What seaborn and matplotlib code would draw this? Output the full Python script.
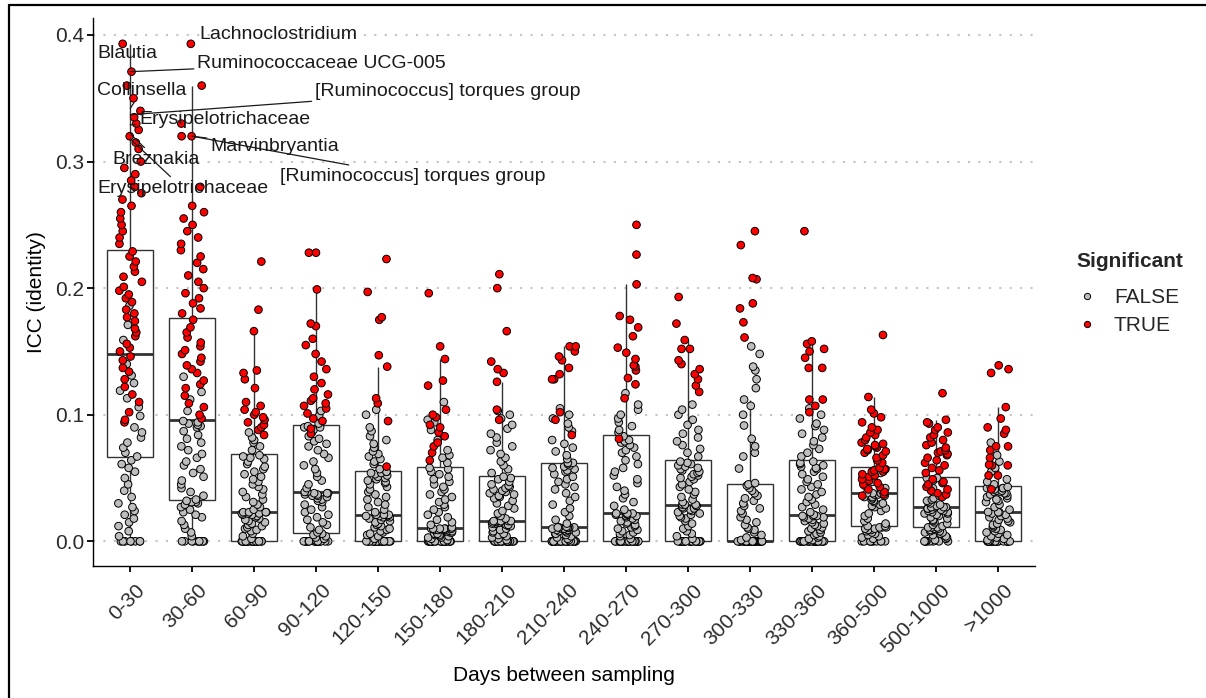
import numpy as np
import pandas as pd
import matplotlib
matplotlib.use("Agg")
import matplotlib.pyplot as plt
import matplotlib.transforms as mtransforms
from matplotlib.lines import Line2D
import seaborn as sns

# ---------------- data (ICC values) ----------------
cats = ["0-30", "30-60", "60-90", "90-120", "120-150", "150-180", "180-210",
        "210-240", "240-270", "270-300", "300-330", "330-360", "360-500",
        "500-1000", ">1000"]

f_0_30 = [0, 0, 0, 0, 0, 0, 0, 0, .004, .008, .012, .015, .018, .021, .024, .027, .03, .035,
          .04, .045, .05, .055, .058, .061, .064, .067, .07, .074, .078, .082, .086, .09, .099,
          .106, .113, .119, .125, .131, .14, .159, .171, .186]
t_0_30 = [.094, .096, .102, .11, .116, .122, .128, .134, .137, .143, .146, .15, .153, .156, .162,
          .165, .168, .174, .177, .18, .183, .189, .192, .195, .198, .201, .205, .209, .213, .217,
          .221, .225, .229, .235, .24, .245, .25, .255, .26, .265, .27, .275, .28, .285, .29, .295,
          .30, .31, .315, .32, .325, .33, .335, .34, .35, .36, .371, .393]

f_30_60 = [0, 0, 0, 0, 0, 0, 0, 0, 0, 0, .004, .007, .01, .013, .016, .019, .021, .023, .025, .027,
           .029, .030, .031, .031, .032, .033, .036, .039, .042, .045, .048, .051, .054, .057, .06,
           .063, .066, .069, .072, .075, .078, .081, .084, .087, .09, .091, .092, .093, .094, .095,
           .103, .112, .118, .13]
t_30_60 = [.097, .1, .106, .109, .115, .121, .124, .127, .133, .136, .139, .142, .145, .148, .151,
           .154, .157, .161, .165, .169, .175, .18, .184, .188, .192, .196, .2, .205, .21, .215, .22,
           .225, .23, .235, .24, .245, .25, .255, .26, .265, .28, .32, .32, .33, .36, .393]

f_60_90 = [0, 0, 0, 0, 0, 0, 0, 0, 0, 0, 0, 0, 0, 0, 0, 0, 0, 0, 0, 0, 0, 0, 0, 0, 0, 0,
           .002, .004, .006, .008, .009, .01, .011, .012, .013, .014, .015, .016, .017, .018, .019,
           .02, .021, .021, .022, .022, .022, .023, .023, .023, .023, .025, .027, .029, .031, .033,
           .035, .037, .039, .041, .043, .045, .047, .049, .051, .053, .055, .057, .059, .061, .063,
           .065, .066, .067, .068, .072, .075, .078, .08, .082, .086]
t_60_90 = [.084, .088, .09, .092, .094, .096, .098, .1, .102, .104, .107, .11, .121, .128, .133,
           .135, .166, .183, .221]

f_90_120 = [0, 0, 0, 0, 0, 0, 0, 0, 0, 0, 0, 0, 0, 0, 0, 0, 0, 0, 0, 0, .002, .003, .004, .005,
            .006, .007, .009, .011, .013, .015, .017, .019, .021, .023, .025, .027, .029, .031,
            .032, .033, .034, .035, .036, .036, .037, .037, .038, .038, .038, .039, .039, .042,
            .045, .048, .051, .054, .057, .06, .063, .066, .069, .072, .075, .077, .079, .081,
            .083, .086, .087, .088, .09, .09, .091, .093, .099, .103]
t_90_120 = [.085, .089, .095, .097, .101, .105, .107, .109, .111, .113, .116, .12, .125, .13, .136,
            .142, .148, .155, .16, .17, .172, .199, .228, .228]

f_120_150 = [0, 0, 0, 0, 0, 0, 0, 0, 0, 0, 0, 0, 0, 0, 0, 0, 0, 0, 0, 0, 0, 0, 0, 0, 0, 0,
             .002, .004, .005, .006, .007, .008, .009, .01, .011, .012, .013, .014, .015, .016,
             .017, .018, .019, .019, .02, .02, .02, .021, .021, .021, .021, .023, .025, .027, .029,
             .031, .033, .035, .037, .039, .041, .043, .045, .046, .047, .048, .049, .05, .051,
             .052, .053, .054, .054, .055, .055, .057, .061, .063, .065, .067, .069, .071, .074,
             .077, .08, .083, .087, .09, .1, .104]
t_120_150 = [.059, .095, .109, .113, .138, .147, .175, .177, .197, .223]

f_150_180 = [0, 0, 0, 0, 0, 0, 0, 0, 0, 0, 0, 0, 0, 0, 0, 0, 0, 0, 0, 0, 0, 0, 0, 0, 0, 0,
             .001, .002, .003, .003, .004, .004, .005, .005, .006, .006, .007, .007, .008, .008,
             .008, .009, .009, .009, .01, .01, .01, .01, .01, .01, .011, .013, .015, .017, .019,
             .021, .023, .025, .027, .029, .031, .033, .035, .037, .039, .041, .043, .045, .047,
             .049, .051, .053, .055, .057, .058, .062, .066, .068, .072, .08, .088, .094, .096, .11]
t_150_180 = [.064, .07, .075, .078, .083, .086, .09, .092, .098, .1, .104, .123, .127, .144, .154,
             .196]

f_180_210 = [0, 0, 0, 0, 0, 0, 0, 0, 0, 0, 0, 0, 0, 0, 0, 0, 0, 0, 0, 0, 0, 0, 0, 0, 0, 0,
             .001, .002, .003, .004, .005, .006, .007, .008, .009, .01, .011, .012, .012, .013,
             .013, .014, .014, .015, .015, .015, .016, .016, .016, .016, .016, .018, .02, .022,
             .024, .026, .028, .03, .032, .034, .035, .036, .037, .038, .039, .04, .041, .042,
             .043, .044, .045, .047, .049, .05, .051, .054, .057, .06, .063, .066, .069, .072,
             .075, .078, .082, .085, .089, .092, .097, .1, .103]
t_180_210 = [.096, .104, .126, .133, .136, .142, .166, .2, .211]

f_210_240 = [0, 0, 0, 0, 0, 0, 0, 0, 0, 0, 0, 0, 0, 0, 0, 0, 0, 0, 0, 0, 0, 0, 0, 0, 0, 0,
             .001, .002, .003, .004, .005, .006, .006, .007, .007, .008, .008, .009, .009, .009,
             .01, .01, .01, .01, .011, .011, .011, .011, .011, .011, .0115, .014, .017, .02, .023,
             .026, .029, .032, .035, .038, .041, .043, .045, .047, .049, .051, .053, .055, .056,
             .057, .058, .059, .06, .061, .062, .062, .065, .068, .071, .074, .077, .08, .087, .09,
             .093, .097, .1, .105]
t_210_240 = [.084, .096, .102, .128, .128, .132, .137, .143, .146, .15, .154, .154]

f_240_270 = [0, 0, 0, 0, 0, 0, 0, 0, 0, 0, 0, 0, 0, 0, 0, 0, 0, 0, 0, 0, 0, 0, 0, 0, 0, 0,
             .002, .004, .005, .006, .007, .008, .009, .01, .011, .012, .013, .014, .015, .016,
             .017, .018, .019, .02, .02, .021, .021, .022, .022, .022, .022, .025, .028, .031, .034,
             .037, .04, .043, .046, .049, .052, .055, .058, .061, .064, .067, .07, .072, .074,
             .076, .078, .079, .08, .083, .086, .088, .091, .094, .097, .1, .104, .108, .117]
t_240_270 = [.081, .113, .124, .129, .135, .138, .139, .144, .149, .153, .162, .169, .175, .178,
             .203, .2265, .25]

f_270_300 = [0, 0, 0, 0, 0, 0, 0, 0, 0, 0, 0, 0, 0, 0, 0, 0, 0, 0, 0, 0, 0, 0, 0, 0, 0, 0,
             .002, .004, .006, .008, .01, .012, .014, .016, .018, .019, .02, .021, .022, .023,
             .024, .025, .026, .026, .027, .027, .028, .028, .029, .029, .029, .031, .033, .035,
             .037, .039, .041, .043, .045, .047, .049, .05, .051, .052, .053, .054, .055, .056,
             .057, .058, .059, .06, .061, .062, .063, .067, .07, .073, .076, .079, .082, .085,
             .088, .092, .096, .1, .104, .108]
t_270_300 = [.118, .123, .128, .132, .136, .14, .143, .152, .152, .159, .172, .193]

f_300_330 = [0, 0, 0, 0, 0, 0, 0, 0, 0, 0, 0, 0, 0, 0, 0, 0, 0, 0, 0, 0, 0, 0, 0, 0,
             0, 0, 0, 0, 0, 0, 0, 0, 0, 0, 0, 0, 0, 0, 0, 0, 0, 0, 0, 0, 0, 0, 0, 0,
             .001, .003, .005, .007, .009, .01, .011, .013, .015, .017, .019, .022, .024, .026,
             .028, .03, .032, .034, .036, .038, .04, .042, .044, .045, .046, .0575, .067, .07,
             .075, .081, .0915, .1, .107, .112, .121, .128, .135, .138, .148, .154]
t_300_330 = [.161, .173, .184, .188, .207, .208, .234, .245]

f_330_360 = [0, 0, 0, 0, 0, 0, 0, 0, 0, 0, 0, 0, 0, 0, 0, 0, 0, 0, 0, 0, 0, 0, 0, 0, 0, 0,
             .001, .002, .003, .004, .005, .006, .007, .008, .009, .01, .011, .012, .013, .014,
             .015, .016, .017, .018, .019, .019, .02, .02, .02, .02, .021, .023, .025, .027, .029,
             .031, .033, .035, .037, .039, .041, .043, .045, .047, .049, .051, .053, .055, .057,
             .058, .059, .06, .061, .062, .063, .067, .07, .073, .076, .079, .082, .085, .088,
             .091, .093, .097, .1, .105]
t_330_360 = [.102, .107, .112, .112, .137, .137, .145, .15, .152, .156, .158, .245]

f_360_500 = [0, 0, 0, 0, 0, 0, 0, 0, 0, 0, .002, .003, .004, .005, .006, .007, .008, .009, .009,
             .01, .01, .011, .011, .011, .012, .012, .014, .016, .018, .02, .022, .024, .026, .027,
             .028, .029, .03, .031, .032, .033, .034, .035, .035, .036, .037, .037, .038, .038,
             .038, .04, .042, .044, .047, .05, .054, .056]
t_360_500 = [.036, .037, .039, .041, .043, .045, .046, .048, .049, .051, .052, .053, .055, .055,
             .056, .057, .057, .058, .058, .062, .064, .066, .068, .07, .071, .072, .073, .074,
             .075, .076, .077, .078, .08, .082, .084, .086, .088, .09, .094, .098, .101, .104,
             .114, .163]

f_500_1000 = [0, 0, 0, 0, 0, 0, 0, 0, 0, .001, .002, .003, .004, .005, .006, .007, .007, .008,
              .008, .009, .009, .01, .01, .011, .011, .011, .012, .013, .014, .015, .016, .017,
              .018, .019, .02, .021, .022, .022, .023, .023, .024, .024, .025, .025, .026, .026,
              .026, .027, .027, .027, .027, .028, .029, .03, .031, .032, .033, .034, .036, .039,
              .042, .044, .048, .05, .05]
t_500_1000 = [.035, .037, .038, .04, .041, .043, .045, .046, .047, .049, .054, .056, .058, .06,
              .062, .064, .066, .068, .069, .07, .071, .072, .074, .076, .078, .08, .082, .084,
              .086, .088, .09, .093, .094, .096, .117]

f_gt_1000 = [0, 0, 0, 0, 0, 0, 0, 0, 0, 0, 0, 0, 0, 0, 0, 0, 0, 0, 0, 0, 0, 0, 0, 0, 0, 0,
             .001, .002, .003, .004, .005, .006, .007, .008, .009, .01, .011, .012, .013, .014,
             .015, .016, .017, .018, .019, .02, .021, .022, .023, .023, .0232, .025, .027, .029,
             .031, .032, .033, .034, .035, .036, .037, .038, .038, .039, .039, .04, .04, .041,
             .042, .042, .042, .043, .043, .043, .045, .047, .049, .055, .058, .063, .068, .078]
t_gt_1000 = [.041, .052, .052, .06, .06, .0605, .066, .072, .075, .075, .085, .088, .09, .097,
             .106, .133, .136, .139]

false_lists = [f_0_30, f_30_60, f_60_90, f_90_120, f_120_150, f_150_180, f_180_210, f_210_240,
               f_240_270, f_270_300, f_300_330, f_330_360, f_360_500, f_500_1000, f_gt_1000]
true_lists = [t_0_30, t_30_60, t_60_90, t_90_120, t_120_150, t_150_180, t_180_210, t_210_240,
              t_240_270, t_270_300, t_300_330, t_330_360, t_360_500, t_500_1000, t_gt_1000]

# labelled taxa (category, ICC value) and where their text sits
label_names = ["Lachnoclostridium", "Blautia", "Ruminococcaceae UCG-005", "Collinsella",
               "[Ruminococcus] torques group", "Erysipelotrichaceae", "Marvinbryantia",
               "[Ruminococcus] torques group", "Breznakia", "Erysipelotrichaceae"]
label_cats = ["30-60", "0-30", "0-30", "0-30", "0-30", "0-30", "30-60", "30-60", "0-30", "0-30"]
label_vals = [0.393, 0.380, 0.371, 0.342, 0.337, 0.329, 0.320, 0.320, 0.322, 0.318]
label_tx = [1.11, -0.53, 1.08, -0.53, 2.98, 0.15, 1.29, 2.42, -0.28, -0.53]
label_ty = [0.4005, 0.385, 0.3776, 0.356, 0.3555, 0.3333, 0.312, 0.288, 0.3017, 0.2788]
label_seg = [False, False, True, True, True, True, True, True, True, True]

rows = []
for c, fl, tl in zip(cats, false_lists, true_lists):
    rows += [(c, v, "FALSE") for v in fl]
    rows += [(c, v, "TRUE") for v in tl]
df = pd.DataFrame(rows, columns=["days", "icc", "Significant"])

# ---------------- plotting ----------------
sns.set_theme(style="ticks")
plt.rcParams["font.family"] = ["Liberation Sans", "DejaVu Sans"]

W, H = 1206, 698
fig = plt.figure(figsize=(W / 100, H / 100), dpi=100)
ax = fig.add_axes([93 / W, 1 - 566 / H, (1035 - 93) / W, (566 - 18) / H])

sns.boxplot(data=df, x="days", y="icc", order=cats, showfliers=False, width=0.75,
            color="white", linecolor="#333333", linewidth=1.0, showcaps=False,
            medianprops=dict(linewidth=2.0, color="#333333"), ax=ax, zorder=2)
np.random.seed(3)
sns.stripplot(data=df, x="days", y="icc", order=cats, hue="Significant",
              hue_order=["FALSE", "TRUE"],
              palette={"FALSE": "#BEBEBE", "TRUE": "#FF0000"},
              jitter=0.2, size=5.5, linewidth=0.7, edgecolor="black", ax=ax, zorder=3,
              legend=False)

ax.set_xlim(-0.6, 14.6)
ax.set_ylim(-0.0195, 0.4134)
ax.set_yticks([0.0, 0.1, 0.2, 0.3, 0.4])
ax.set_yticklabels(["0.0", "0.1", "0.2", "0.3", "0.4"])
ax.set_axisbelow(True)
ax.yaxis.grid(True, linestyle=(0, (1, 4)), color="#C4C4C4", linewidth=1.5)
ax.xaxis.grid(False)
for s in ["top", "right"]:
    ax.spines[s].set_visible(False)
for s in ["left", "bottom"]:
    ax.spines[s].set_color("black")
    ax.spines[s].set_linewidth(1.0)
ax.tick_params(axis="both", length=4.5, width=1.3, color="black", labelsize=15,
               labelcolor="#2b2b2b", pad=2)
ax.tick_params(axis="x", pad=6)
offset = mtransforms.ScaledTranslation(5 / 100, 0, fig.dpi_scale_trans)
for lab in ax.get_xticklabels():
    lab.set_rotation(45)
    lab.set_ha("right")
    lab.set_va("top")
    lab.set_rotation_mode("anchor")
    lab.set_transform(lab.get_transform() + offset)

ax.set_xlabel("Days between sampling", fontsize=15, color="black")
ax.set_ylabel("ICC (identity)", fontsize=15, color="black")
ax.xaxis.set_label_coords(0.5, -0.182)
ax.yaxis.set_label_coords(-0.05, 0.5)

# labels with repel-like segments
for name, c, v, tx, ty, seg in zip(label_names, label_cats, label_vals, label_tx, label_ty, label_seg):
    xi = cats.index(c)
    if seg:
        ax.annotate(name, xy=(xi, v), xytext=(tx, ty), ha="left", va="center", fontsize=14,
                    color="#1a1a1a", zorder=5,
                    arrowprops=dict(arrowstyle="-", color="#1a1a1a", lw=0.9,
                                    shrinkA=0, shrinkB=0))
    else:
        ax.text(tx, ty, name, ha="left", va="center", fontsize=14, color="#1a1a1a", zorder=5)

# legend
handles = [Line2D([], [], linestyle="none", marker="o", markersize=4.5, markerfacecolor="#BEBEBE",
                  markeredgecolor="black", markeredgewidth=0.7),
           Line2D([], [], linestyle="none", marker="o", markersize=4.5, markerfacecolor="#FF0000",
                  markeredgecolor="black", markeredgewidth=0.7)]
leg = fig.legend(handles, ["FALSE", "TRUE"], title="Significant", loc="upper left",
                 bbox_to_anchor=(1068 / W, 1 - 244 / H), frameon=False, fontsize=15,
                 title_fontproperties={"weight": "bold", "size": 15}, handletextpad=0.8,
                 labelspacing=0.45, handlelength=1.0, borderaxespad=0)
leg._legend_box.align = "left"
leg._legend_box.sep = 12

# outer frame (left and top edges visible in the reference)
fig.add_artist(Line2D([8.5 / W, 8.5 / W], [0, 1 - 5 / H], transform=fig.transFigure,
                      color="black", lw=1.6))
fig.add_artist(Line2D([8.5 / W, 1], [1 - 5 / H, 1 - 5 / H], transform=fig.transFigure,
                      color="black", lw=1.6))

fig.savefig("out.png", dpi=100)
